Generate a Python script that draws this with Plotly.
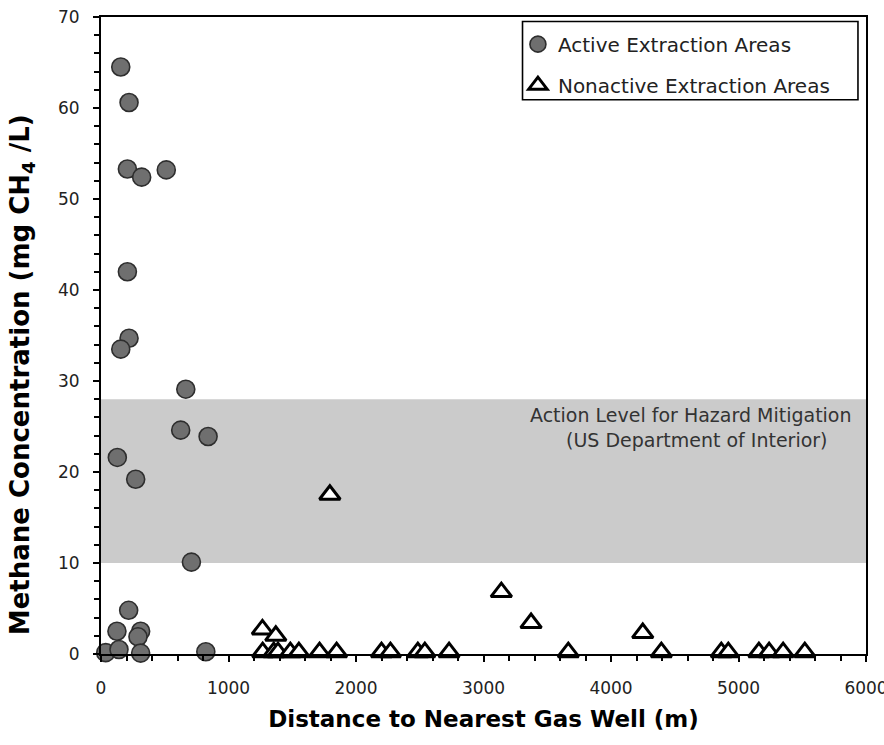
import plotly.graph_objects as go

# Groundwater methane vs. distance to the nearest gas well
active_dist = [155, 220, 207, 319, 512, 207, 220, 155, 665, 625, 840, 128, 272,
               709, 217, 125, 311, 290, 37, 141, 311, 822]
active_ch4 = [64.5, 60.6, 53.3, 52.4, 53.2, 42.0, 34.7, 33.5, 29.1, 24.6, 23.9,
              21.6, 19.2, 10.1, 4.8, 2.5, 2.5, 1.9, 0.15, 0.5, 0.1, 0.25]

nonactive_dist = [1795, 3140, 3373, 4249, 1266, 1371,
                  1268, 1355, 1388, 1485, 1552, 1714, 1848, 2200, 2270, 2485,
                  2540, 2730, 3665, 4395, 4865, 4920, 5160, 5240, 5350, 5520]
nonactive_ch4 = [17.5, 6.8, 3.4, 2.3, 2.7, 2.0,
                 0.2, 0.2, 0.2, 0.2, 0.2, 0.2, 0.2, 0.2, 0.2, 0.2,
                 0.2, 0.2, 0.2, 0.2, 0.2, 0.2, 0.2, 0.2, 0.2, 0.2]

action_low, action_high = 10, 28
x_ticks = [0, 1000, 2000, 3000, 4000, 5000, 6000]
y_ticks = [0, 10, 20, 30, 40, 50, 60, 70]

FONT = "DejaVu Sans, Arial, sans-serif"

fig = go.Figure()

fig.add_trace(go.Scatter(
    x=active_dist, y=active_ch4, mode="markers",
    name="Active Extraction Areas", legendgroup="a",
    marker=dict(symbol="circle", size=18, color="#6f6f6f",
                line=dict(color="#2e2e2e", width=1.6)),
    cliponaxis=False,
))
fig.add_trace(go.Scatter(
    x=nonactive_dist, y=nonactive_ch4, mode="markers",
    name="Nonactive Extraction Areas", legendgroup="b",
    marker=dict(symbol="triangle-up", size=18, color="white",
                line=dict(color="black", width=3)),
    cliponaxis=False,
))

# Hazard mitigation band
fig.add_shape(type="rect", xref="paper", yref="y", x0=0, x1=1,
              y0=action_low, y1=action_high, fillcolor="#cbcbcb",
              line=dict(width=0), layer="below")

# Legend frame
fig.add_shape(type="rect", xref="paper", yref="paper",
              x0=0.551, x1=0.9895, y0=0.870, y1=0.993,
              line=dict(color="black", width=1.6), fillcolor="rgba(0,0,0,0)")

fig.add_annotation(x=4626, y=26.3, xref="x", yref="y",
                   text="Action Level for Hazard Mitigation", showarrow=False,
                   font=dict(family=FONT, size=19, color="#333333"))
fig.add_annotation(x=4673, y=23.55, xref="x", yref="y",
                   text="(US Department of Interior)", showarrow=False,
                   font=dict(family=FONT, size=19, color="#333333"))

# Y-axis title, set slightly below the plot's vertical centre
fig.add_annotation(x=-0.103, y=0.438, xref="paper", yref="paper",
                   xanchor="center", yanchor="middle", textangle=-90,
                   text="<b>Methane Concentration (mg CH<sub>4</sub> /L)</b>",
                   showarrow=False,
                   font=dict(family=FONT, size=26, color="black"))

axis_common = dict(
    showline=True, linecolor="black", linewidth=2, mirror=True,
    ticks="outside", ticklen=6, tickwidth=2, tickcolor="black",
    showgrid=False, zeroline=False,
    tickfont=dict(family=FONT, size=17, color="#222222"),
    ticklabeloverflow="allow", automargin=False,
)

fig.update_xaxes(
    range=[0, 6000], tickvals=x_ticks, ticktext=[str(v) for v in x_ticks],
    minor=dict(dtick=200, ticks="outside", ticklen=5, tickwidth=1.5,
               tickcolor="black", showgrid=False),
    title=dict(text="<b>Distance to Nearest Gas Well (m)</b>",
               font=dict(family=FONT, size=23, color="black"), standoff=13),
    ticklabelstandoff=12,
    **axis_common,
)
fig.update_yaxes(
    range=[0, 70], tickvals=y_ticks, ticktext=[str(v) for v in y_ticks],
    minor=dict(dtick=2, ticks="outside", ticklen=5, tickwidth=1.5,
               tickcolor="black", showgrid=False),
    ticklabelstandoff=10,
    **axis_common,
)

fig.update_layout(
    width=884, height=745,
    margin=dict(l=101, r=18, t=17, b=91),
    plot_bgcolor="white", paper_bgcolor="white",
    showlegend=True,
    legend=dict(x=0.545, y=0.988, xanchor="left", yanchor="top",
                bgcolor="rgba(0,0,0,0)", borderwidth=0,
                font=dict(family=FONT, size=20, color="#222222"),
                itemwidth=30, tracegroupgap=12, traceorder="grouped"),
)

fig.write_html("out.html")
